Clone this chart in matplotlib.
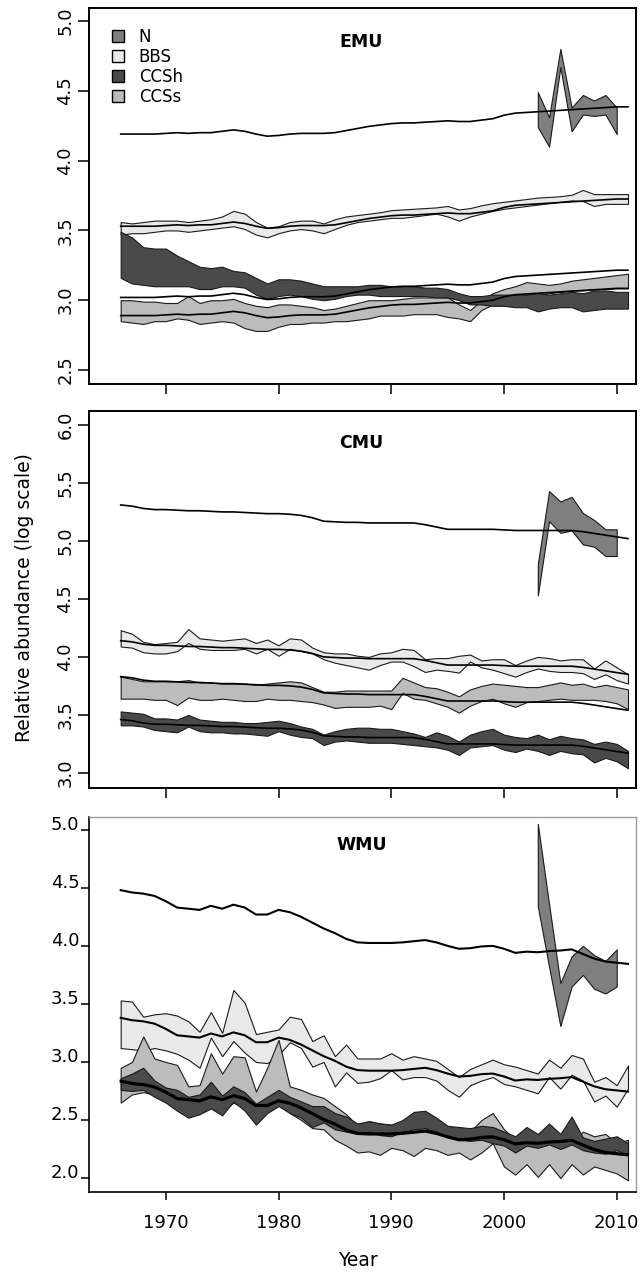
import matplotlib
matplotlib.use('Agg')
import matplotlib.pyplot as plt
from matplotlib.patches import Patch

plt.rcParams['font.family'] = ['DejaVu Sans']

YEARS = list(range(1966, 2012))
N_YEARS = list(range(2003, 2011))
SERIES = ['N', 'BBS', 'CCSh', 'CCSs']

# ---------------- EMU ----------------
EMU_N_TREND = [4.19,4.19,4.19,4.19,4.195,4.20,4.195,4.20,4.20,4.21,
               4.22,4.21,4.19,4.175,4.18,4.19,4.195,4.195,4.195,4.20,
               4.215,4.23,4.245,4.255,4.265,4.27,4.27,4.275,4.28,4.285,
               4.28,4.28,4.29,4.30,4.325,4.34,4.345,4.35,4.355,4.36,
               4.365,4.37,4.375,4.38,4.385,4.385]
EMU_BBS_TREND = [3.53,3.53,3.53,3.53,3.535,3.54,3.535,3.54,3.54,3.55,
                 3.56,3.55,3.53,3.515,3.52,3.53,3.535,3.535,3.535,3.54,
                 3.555,3.57,3.585,3.595,3.605,3.61,3.61,3.615,3.62,3.625,
                 3.62,3.62,3.63,3.64,3.665,3.68,3.685,3.69,3.695,3.70,
                 3.705,3.71,3.715,3.72,3.725,3.725]
EMU_CCSH_TREND = [3.02,3.02,3.02,3.02,3.025,3.03,3.025,3.03,3.03,3.04,
                  3.05,3.04,3.02,3.005,3.01,3.02,3.025,3.025,3.025,3.03,
                  3.045,3.06,3.075,3.085,3.095,3.10,3.10,3.105,3.11,3.115,
                  3.11,3.11,3.12,3.13,3.155,3.17,3.175,3.18,3.185,3.19,
                  3.195,3.20,3.205,3.21,3.215,3.215]
EMU_CCSS_TREND = [2.89,2.89,2.89,2.89,2.895,2.90,2.895,2.90,2.90,2.91,
                  2.92,2.91,2.89,2.875,2.88,2.89,2.895,2.895,2.895,2.90,
                  2.915,2.93,2.945,2.955,2.965,2.97,2.97,2.975,2.98,2.985,
                  2.98,2.98,2.99,3.00,3.025,3.04,3.045,3.05,3.055,3.06,
                  3.065,3.07,3.075,3.08,3.085,3.085]
EMU_N_HI = [4.49,4.31,4.80,4.38,4.47,4.43,4.47,4.38]
EMU_N_LO = [4.24,4.10,4.67,4.21,4.33,4.32,4.33,4.19]
EMU_BBS_HI = [3.56,3.55,3.56,3.57,3.57,3.57,3.56,3.57,3.58,3.60,
              3.64,3.62,3.56,3.52,3.53,3.56,3.57,3.57,3.55,3.58,
              3.60,3.61,3.62,3.63,3.645,3.65,3.655,3.66,3.665,3.675,
              3.65,3.66,3.68,3.695,3.705,3.715,3.725,3.735,3.74,3.745,
              3.755,3.79,3.76,3.76,3.76,3.76]
EMU_BBS_LO = [3.47,3.48,3.48,3.49,3.50,3.50,3.49,3.50,3.51,3.52,
              3.53,3.51,3.47,3.45,3.48,3.50,3.51,3.50,3.48,3.51,
              3.54,3.56,3.57,3.58,3.59,3.59,3.60,3.61,3.62,3.60,
              3.57,3.60,3.62,3.64,3.655,3.665,3.675,3.685,3.695,3.705,
              3.715,3.71,3.675,3.69,3.69,3.69]
EMU_CCSH_HI = [3.49,3.45,3.38,3.37,3.37,3.32,3.28,3.24,3.23,3.24,
               3.21,3.20,3.16,3.12,3.15,3.15,3.14,3.12,3.10,3.10,
               3.10,3.10,3.11,3.11,3.10,3.10,3.10,3.09,3.09,3.08,
               3.05,3.03,3.03,3.04,3.04,3.04,3.04,3.05,3.04,3.05,
               3.06,3.05,3.07,3.07,3.06,3.06]
EMU_CCSH_LO = [3.16,3.12,3.11,3.10,3.10,3.10,3.10,3.08,3.08,3.10,
               3.10,3.09,3.04,3.01,3.03,3.04,3.03,3.01,3.00,3.01,
               3.03,3.04,3.04,3.03,3.03,3.03,3.03,3.03,3.02,3.02,
               3.00,2.97,2.97,2.96,2.96,2.95,2.95,2.92,2.94,2.95,
               2.95,2.92,2.93,2.94,2.94,2.94]
EMU_CCSS_HI = [3.00,3.00,2.99,2.99,2.98,2.98,3.03,2.98,3.00,3.00,
               3.01,2.98,2.96,2.95,2.97,2.97,2.96,2.95,2.93,2.94,
               2.96,2.98,3.00,3.00,3.00,3.01,3.02,3.02,3.02,3.02,
               2.97,2.93,3.00,3.05,3.08,3.10,3.13,3.12,3.11,3.12,
               3.14,3.15,3.16,3.17,3.18,3.19]
EMU_CCSS_LO = [2.85,2.84,2.83,2.85,2.85,2.87,2.86,2.83,2.84,2.85,
               2.84,2.80,2.78,2.78,2.81,2.83,2.83,2.84,2.84,2.85,
               2.85,2.86,2.87,2.89,2.89,2.89,2.90,2.90,2.90,2.88,
               2.87,2.85,2.93,2.97,2.99,3.01,3.03,3.04,3.05,3.06,
               3.07,3.07,3.08,3.08,3.085,3.085]

# ---------------- CMU ----------------
CMU_N_TREND = [5.31,5.30,5.28,5.27,5.27,5.265,5.26,5.26,5.255,5.25,
               5.25,5.245,5.24,5.235,5.235,5.23,5.22,5.20,5.17,5.165,
               5.16,5.16,5.155,5.155,5.155,5.155,5.155,5.14,5.12,5.10,
               5.10,5.10,5.10,5.10,5.095,5.09,5.09,5.09,5.09,5.09,
               5.09,5.08,5.065,5.05,5.035,5.02]
CMU_BBS_TREND = [4.14,4.13,4.11,4.10,4.10,4.095,4.09,4.09,4.085,4.08,
                 4.08,4.075,4.07,4.065,4.065,4.06,4.05,4.03,4.00,3.995,
                 3.99,3.99,3.985,3.985,3.985,3.985,3.985,3.97,3.95,3.93,
                 3.93,3.93,3.93,3.93,3.925,3.92,3.92,3.92,3.92,3.92,
                 3.92,3.91,3.895,3.88,3.865,3.85]
CMU_CCSS_TREND = [3.83,3.82,3.80,3.79,3.79,3.785,3.78,3.78,3.775,3.77,
                  3.77,3.765,3.76,3.755,3.755,3.75,3.74,3.72,3.69,3.685,
                  3.68,3.68,3.675,3.675,3.675,3.675,3.675,3.66,3.64,3.62,
                  3.62,3.62,3.62,3.62,3.615,3.61,3.61,3.61,3.61,3.61,
                  3.61,3.60,3.585,3.57,3.555,3.54]
CMU_CCSH_TREND = [3.46,3.45,3.43,3.42,3.42,3.415,3.41,3.41,3.405,3.40,
                  3.40,3.395,3.39,3.385,3.385,3.38,3.37,3.35,3.32,3.315,
                  3.31,3.31,3.305,3.305,3.305,3.305,3.305,3.29,3.27,3.25,
                  3.25,3.25,3.25,3.25,3.245,3.24,3.24,3.24,3.24,3.24,
                  3.24,3.23,3.215,3.20,3.185,3.17]
CMU_N_HI = [4.80,5.43,5.34,5.38,5.24,5.18,5.10,5.10]
CMU_N_LO = [4.53,5.17,5.07,5.09,4.97,4.95,4.87,4.87]
CMU_BBS_HI = [4.23,4.20,4.13,4.11,4.12,4.13,4.24,4.16,4.15,4.14,
              4.15,4.16,4.12,4.15,4.10,4.16,4.15,4.08,4.04,4.03,
              4.03,4.01,4.00,4.03,4.04,4.07,4.06,3.98,3.99,3.99,
              4.01,4.02,3.97,3.98,3.98,3.93,3.97,4.00,3.99,3.97,
              3.98,3.98,3.90,3.97,3.91,3.85]
CMU_BBS_LO = [4.09,4.08,4.04,4.03,4.03,4.05,4.12,4.07,4.06,4.06,
              4.06,4.07,4.03,4.07,4.01,4.07,4.05,4.03,3.98,3.95,
              3.93,3.91,3.89,3.93,3.96,3.96,3.92,3.87,3.89,3.88,
              3.865,3.96,3.91,3.89,3.86,3.83,3.87,3.90,3.88,3.87,
              3.87,3.86,3.81,3.85,3.80,3.77]
CMU_CCSS_HI = [3.83,3.81,3.79,3.79,3.79,3.79,3.80,3.78,3.78,3.77,
               3.77,3.77,3.76,3.77,3.78,3.79,3.78,3.74,3.70,3.70,
               3.71,3.71,3.71,3.71,3.71,3.82,3.78,3.74,3.73,3.70,
               3.66,3.72,3.75,3.77,3.76,3.75,3.74,3.74,3.76,3.78,
               3.76,3.77,3.74,3.76,3.74,3.72]
CMU_CCSS_LO = [3.64,3.64,3.64,3.63,3.63,3.585,3.65,3.63,3.63,3.64,
               3.63,3.62,3.62,3.64,3.63,3.63,3.62,3.61,3.59,3.56,
               3.57,3.57,3.57,3.58,3.55,3.69,3.64,3.63,3.60,3.57,
               3.52,3.58,3.62,3.64,3.60,3.57,3.61,3.62,3.63,3.64,
               3.63,3.63,3.63,3.62,3.60,3.55]
CMU_CCSH_HI = [3.53,3.52,3.51,3.47,3.47,3.46,3.50,3.46,3.45,3.44,
               3.44,3.43,3.43,3.44,3.45,3.43,3.40,3.38,3.33,3.36,
               3.38,3.39,3.39,3.38,3.38,3.36,3.34,3.31,3.35,3.32,
               3.27,3.33,3.36,3.38,3.33,3.31,3.30,3.33,3.29,3.32,
               3.30,3.29,3.25,3.27,3.25,3.19]
CMU_CCSH_LO = [3.41,3.41,3.40,3.37,3.36,3.35,3.40,3.36,3.35,3.35,
               3.34,3.34,3.33,3.32,3.36,3.33,3.31,3.30,3.24,3.27,
               3.28,3.27,3.26,3.26,3.26,3.25,3.24,3.23,3.22,3.20,
               3.155,3.22,3.23,3.24,3.20,3.18,3.21,3.19,3.155,3.19,
               3.17,3.16,3.09,3.13,3.10,3.04]

# ---------------- WMU ----------------
WMU_N_TREND = [4.48,4.46,4.45,4.43,4.385,4.33,4.32,4.31,4.345,4.32,
               4.355,4.33,4.27,4.27,4.31,4.29,4.25,4.20,4.15,4.11,
               4.06,4.03,4.025,4.025,4.025,4.03,4.04,4.05,4.03,4.00,
               3.975,3.98,3.995,4.00,3.975,3.94,3.95,3.945,3.955,3.96,
               3.97,3.93,3.89,3.865,3.855,3.845]
WMU_BBS_TREND = [3.38,3.36,3.35,3.33,3.285,3.23,3.22,3.21,3.245,3.22,
                 3.255,3.23,3.17,3.17,3.21,3.19,3.15,3.10,3.05,3.01,
                 2.96,2.93,2.925,2.925,2.925,2.93,2.94,2.95,2.93,2.90,
                 2.875,2.88,2.895,2.90,2.875,2.84,2.85,2.845,2.855,2.86,
                 2.87,2.83,2.79,2.765,2.755,2.745]
WMU_CCSH_TREND = [2.83,2.81,2.80,2.78,2.735,2.68,2.67,2.66,2.695,2.67,
                  2.705,2.68,2.62,2.62,2.66,2.64,2.60,2.55,2.50,2.46,
                  2.41,2.38,2.375,2.375,2.375,2.38,2.39,2.40,2.38,2.35,
                  2.325,2.33,2.345,2.35,2.325,2.29,2.30,2.295,2.305,2.31,
                  2.32,2.28,2.24,2.215,2.205,2.195]
WMU_CCSS_TREND = [2.84,2.82,2.81,2.79,2.745,2.69,2.68,2.67,2.705,2.68,
                  2.715,2.69,2.63,2.63,2.67,2.65,2.61,2.56,2.51,2.47,
                  2.42,2.39,2.385,2.385,2.385,2.39,2.40,2.41,2.39,2.36,
                  2.335,2.34,2.355,2.36,2.335,2.30,2.31,2.305,2.315,2.32,
                  2.33,2.29,2.25,2.225,2.215,2.205]
WMU_N_HI = [5.05,4.36,3.68,3.91,4.00,3.92,3.87,3.97]
WMU_N_LO = [4.34,3.82,3.31,3.65,3.75,3.63,3.59,3.65]
WMU_BBS_HI = [3.53,3.52,3.39,3.41,3.42,3.40,3.35,3.26,3.43,3.25,
              3.62,3.51,3.24,3.26,3.28,3.39,3.37,3.18,3.23,3.05,
              3.15,3.03,3.03,3.03,3.075,3.02,3.05,3.03,3.01,2.94,
              2.87,2.94,2.98,3.02,2.98,2.96,2.93,2.90,3.02,2.95,
              3.06,3.03,2.83,2.87,2.80,2.97]
WMU_BBS_LO = [3.12,3.11,3.10,3.12,3.10,3.07,3.02,2.95,3.21,3.05,
              3.18,3.08,3.00,2.99,3.06,3.17,3.12,2.96,3.00,2.79,
              2.91,2.82,2.83,2.86,2.93,2.85,2.87,2.87,2.84,2.76,
              2.70,2.80,2.84,2.87,2.81,2.79,2.76,2.73,2.87,2.77,
              2.89,2.84,2.66,2.71,2.615,2.77]
WMU_CCSH_HI = [2.86,2.90,2.95,2.84,2.78,2.76,2.70,2.72,2.83,2.71,
               2.79,2.74,2.64,2.70,2.76,2.70,2.66,2.62,2.62,2.56,
               2.53,2.47,2.49,2.47,2.46,2.50,2.57,2.58,2.52,2.45,
               2.44,2.43,2.45,2.44,2.40,2.36,2.44,2.38,2.47,2.38,
               2.53,2.35,2.32,2.34,2.36,2.30]
WMU_CCSH_LO = [2.76,2.75,2.76,2.70,2.65,2.58,2.52,2.55,2.60,2.54,
               2.66,2.58,2.46,2.56,2.62,2.56,2.52,2.44,2.48,2.42,
               2.40,2.38,2.40,2.37,2.36,2.40,2.42,2.43,2.40,2.35,
               2.33,2.32,2.33,2.30,2.28,2.22,2.28,2.26,2.29,2.25,
               2.29,2.24,2.22,2.21,2.24,2.20]
WMU_CCSS_HI = [2.95,3.00,3.22,3.03,3.00,2.975,2.79,2.80,3.075,2.90,
               3.05,3.04,2.745,2.95,3.19,2.79,2.76,2.72,2.69,2.62,
               2.55,2.45,2.49,2.47,2.46,2.45,2.47,2.46,2.45,2.44,
               2.42,2.40,2.50,2.56,2.42,2.33,2.30,2.33,2.30,2.33,
               2.30,2.40,2.36,2.38,2.30,2.33]
WMU_CCSS_LO = [2.65,2.72,2.74,2.72,2.68,2.62,2.56,2.56,2.62,2.58,
               2.65,2.60,2.52,2.58,2.64,2.56,2.50,2.43,2.42,2.33,
               2.28,2.22,2.23,2.20,2.26,2.24,2.19,2.26,2.24,2.20,
               2.22,2.16,2.22,2.30,2.10,2.03,2.12,2.01,2.12,2.00,
               2.12,2.03,2.10,2.07,2.04,1.98]

PANEL_NAMES = ['EMU', 'CMU', 'WMU']
YTICKS_EMU = [2.5, 3.0, 3.5, 4.0, 4.5, 5.0]
YTICKS_CMU = [3.0, 3.5, 4.0, 4.5, 5.0, 5.5, 6.0]
YTICKS_WMU = [2.0, 2.5, 3.0, 3.5, 4.0, 4.5, 5.0]
XTICKS = [1970, 1980, 1990, 2000, 2010]

COLORS = {'N': '#7f7f7f', 'BBS': '#e9e9e9', 'CCSh': '#4a4a4a', 'CCSs': '#bcbcbc'}
EDGE = '#1a1a1a'

W, H = 644, 1272
fig = plt.figure(figsize=(W / 100, H / 100), dpi=100)


def axes_px(left, top, right, bottom):
    return fig.add_axes([left / W, 1 - bottom / H, (right - left) / W, (bottom - top) / H])


ax1 = axes_px(89, 8, 636, 384)
ax2 = axes_px(89, 411, 636, 788)
ax3 = axes_px(89, 817, 636, 1192)


def draw(ax, bbs, ccss, ccsh, n_band, trends, trend_lw):
    for (lo, hi), key in ((bbs, 'BBS'), (ccss, 'CCSs'), (ccsh, 'CCSh')):
        ax.fill_between(YEARS, lo, hi, facecolor=COLORS[key], edgecolor=EDGE,
                        linewidth=0.8)
    ax.fill_between(N_YEARS, n_band[0], n_band[1], facecolor=COLORS['N'],
                    edgecolor=EDGE, linewidth=0.8)
    for tr in trends:
        ax.plot(YEARS, tr, color='black', linewidth=trend_lw, solid_joinstyle='round')


draw(ax1, (EMU_BBS_LO, EMU_BBS_HI), (EMU_CCSS_LO, EMU_CCSS_HI),
     (EMU_CCSH_LO, EMU_CCSH_HI), (EMU_N_LO, EMU_N_HI),
     [EMU_N_TREND, EMU_BBS_TREND, EMU_CCSH_TREND, EMU_CCSS_TREND], 1.2)
draw(ax2, (CMU_BBS_LO, CMU_BBS_HI), (CMU_CCSS_LO, CMU_CCSS_HI),
     (CMU_CCSH_LO, CMU_CCSH_HI), (CMU_N_LO, CMU_N_HI),
     [CMU_N_TREND, CMU_BBS_TREND, CMU_CCSH_TREND, CMU_CCSS_TREND], 1.2)
draw(ax3, (WMU_BBS_LO, WMU_BBS_HI), (WMU_CCSS_LO, WMU_CCSS_HI),
     (WMU_CCSH_LO, WMU_CCSH_HI), (WMU_N_LO, WMU_N_HI),
     [WMU_N_TREND, WMU_BBS_TREND, WMU_CCSH_TREND, WMU_CCSS_TREND], 1.5)

ylims = [(2.40, 5.093), (2.87, 6.12), (1.88, 5.11)]
yticks = [YTICKS_EMU, YTICKS_CMU, YTICKS_WMU]
title_y = [0.910, 0.915, 0.925]

for i, ax in enumerate([ax1, ax2, ax3]):
    ax.set_xlim(1963.19, 2011.71)
    ax.set_ylim(*ylims[i])
    ax.set_xticks(XTICKS)
    ax.set_yticks(yticks[i])
    ax.set_yticklabels(['%.1f' % v for v in yticks[i]])
    ax.text(0.498, title_y[i], PANEL_NAMES[i], transform=ax.transAxes,
            ha='center', va='center', fontsize=12.5, fontweight='bold')
    for s in ax.spines.values():
        s.set_linewidth(1.4)
        s.set_color('black')

for ax in (ax1, ax2):
    ax.tick_params(axis='x', length=7, width=1.1, labelbottom=False)
    ax.tick_params(axis='y', length=8, width=1.1, pad=2.5, labelsize=13,
                   labelrotation=90)
    plt.setp(ax.get_yticklabels(), va='center')

ax3.tick_params(axis='x', length=6, width=1.1, pad=10, labelsize=13)
ax3.tick_params(axis='y', length=6, width=1.1, pad=0.8, labelsize=13)
plt.setp(ax3.get_yticklabels(), va='baseline')
ax3.spines['top'].set_color('#9a9a9a')
ax3.spines['right'].set_color('#9a9a9a')
ax3.spines['top'].set_linewidth(1.0)
ax3.spines['right'].set_linewidth(1.0)
ax3.spines['left'].set_linewidth(1.2)
ax3.spines['bottom'].set_linewidth(1.2)

handles = [Patch(facecolor=COLORS[k], edgecolor='black', linewidth=1.0) for k in SERIES]
ax1.legend(handles, SERIES, loc='upper left', bbox_to_anchor=(0.042, 0.947),
           frameon=False, fontsize=12, handlelength=0.75, handleheight=0.75,
           handletextpad=0.85, labelspacing=0.12, borderaxespad=0, borderpad=0)

fig.text(25 / W, 1 - 598 / H, 'Relative abundance (log scale)', rotation=90,
         ha='center', va='center', fontsize=13.5)
fig.text(358 / W, 1 - 1260 / H, 'Year', ha='center', va='center', fontsize=13.5)

fig.savefig('out.png', dpi=100)
